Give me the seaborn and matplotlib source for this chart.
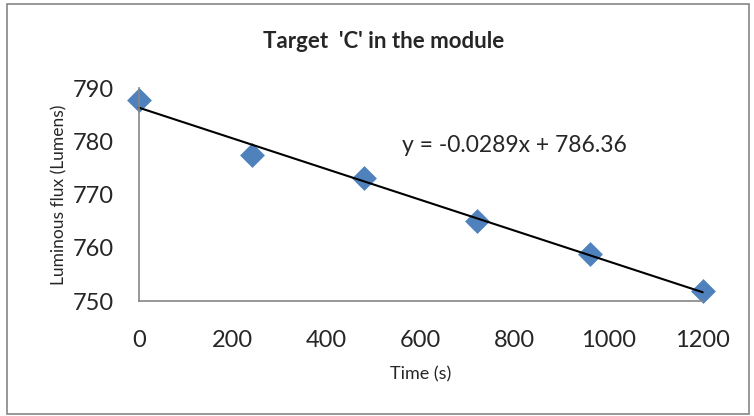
import matplotlib
matplotlib.use('Agg')
import matplotlib.pyplot as plt
import numpy as np
import pandas as pd
import seaborn as sns

time_s = [0, 240, 480, 720, 960, 1200]
flux_lm = [787.7, 777.5, 773.1, 765.0, 758.8, 752.0]
x_ticks = [0, 200, 400, 600, 800, 1000, 1200]
y_ticks = [750, 760, 770, 780, 790]
equation = 'y = -0.0289x + 786.36'

sns.set_style('white')
plt.rcParams['font.family'] = ['Lato', 'DejaVu Sans']

data = pd.DataFrame({'Time (s)': time_s, 'Luminous flux (Lumens)': flux_lm})

fig = plt.figure(figsize=(7.54, 4.16), dpi=100)
ax = fig.add_axes([0.184, 0.276, 0.748, 0.512])

sns.regplot(data, x='Time (s)', y='Luminous flux (Lumens)', ci=None, ax=ax,
            marker='D', scatter_kws={'s': 160, 'color': '#4F81BD', 'linewidths': 0,
                                     'alpha': 1, 'clip_on': False},
            line_kws={'color': 'black', 'lw': 1.5, 'clip_on': False})

ax.set_xlim(0, 1200)
ax.set_ylim(750, 790)
ax.set_xticks(x_ticks)
ax.set_yticks(y_ticks)
ax.tick_params(axis='x', labelsize=17, length=0, pad=21)
ax.tick_params(axis='y', labelsize=17, length=0, pad=18)
ax.set_xlabel('Time (s)', fontsize=13, labelpad=11)
ax.set_ylabel('Luminous flux (Lumens)', fontsize=12.5, labelpad=4)
# title sits centred on the whole chart, not on the plot area
ax.set_title("Target  'C' in the module", fontsize=16, fontweight='bold', pad=29, x=0.434)

for side in ['top', 'right']:
    ax.spines[side].set_visible(False)
for side in ['left', 'bottom']:
    ax.spines[side].set_color('#868686')
    ax.spines[side].set_linewidth(1.2)

ax.text(0.466, 0.73, equation, transform=ax.transAxes, fontsize=16.5, va='center', ha='left')

fig.patches.append(plt.Rectangle((0.009, 0.005), 0.985, 0.985, transform=fig.transFigure,
                                 fill=False, edgecolor='#868686', lw=1.2))

fig.savefig('out.png', dpi=100)
